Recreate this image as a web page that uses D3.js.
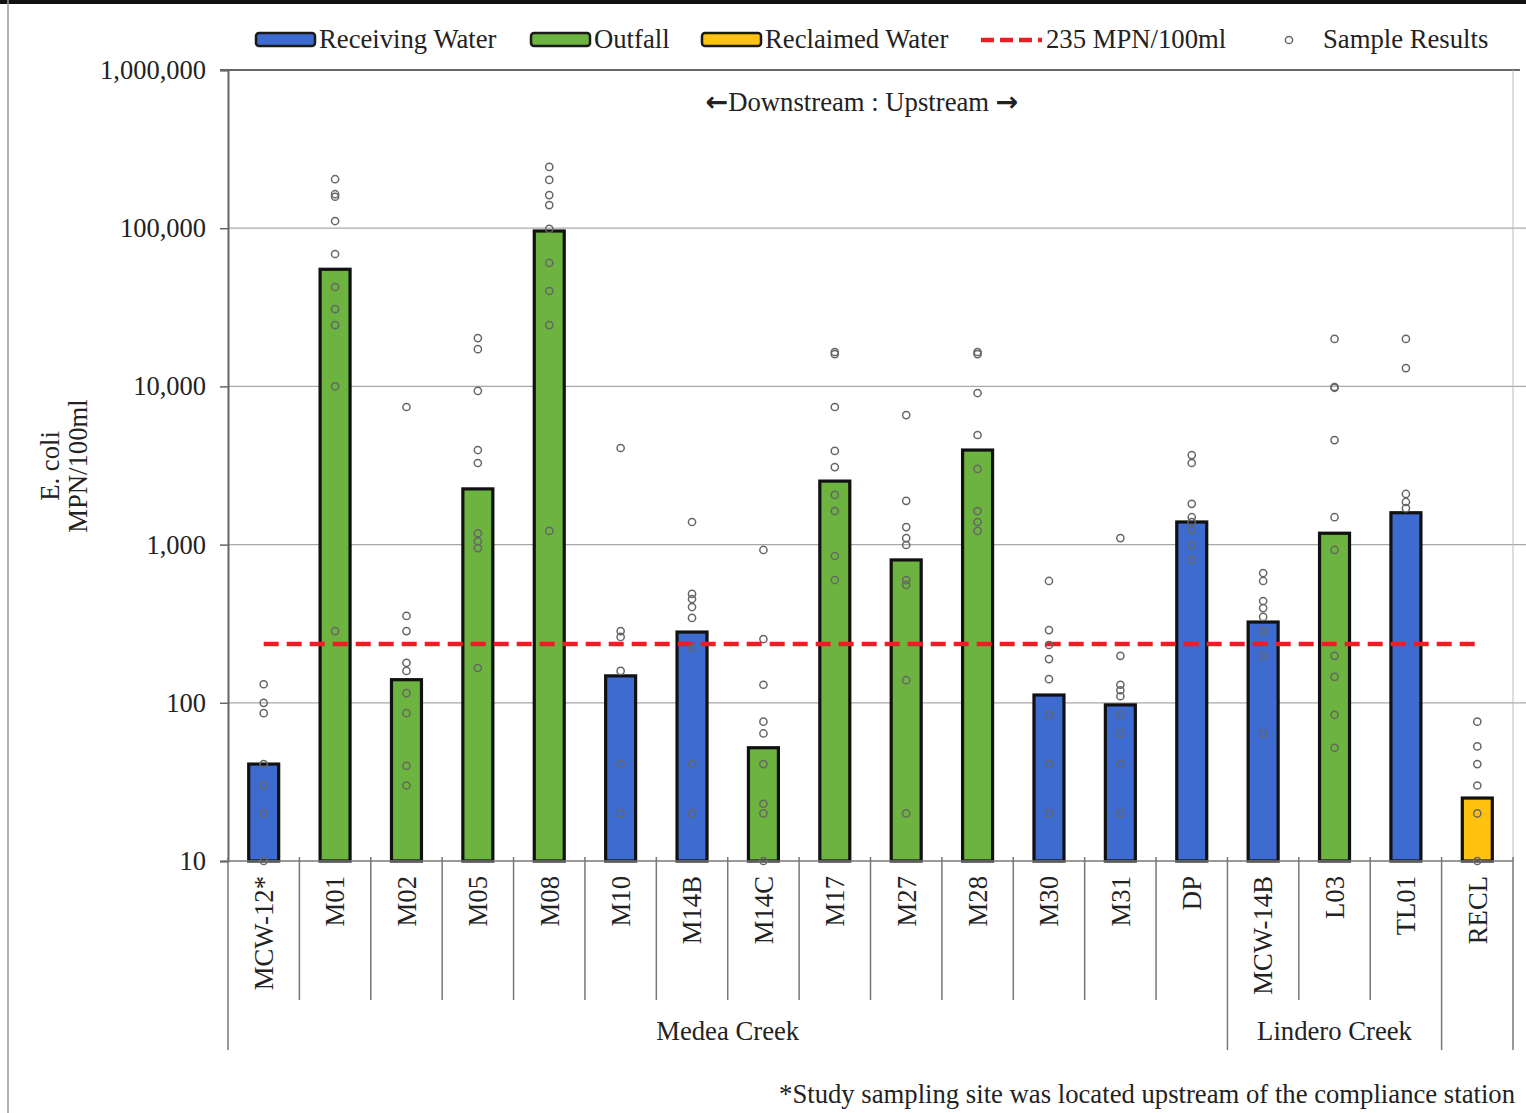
<!DOCTYPE html>
<html>
<head>
<meta charset="utf-8">
<script src="https://cdn.jsdelivr.net/npm/d3@7"></script>
<style>
  html, body { margin: 0; padding: 0; background: #fff; }
  svg { display: block; }
  text { font-family: "Liberation Serif", "Times New Roman", serif; fill: #222; }
</style>
</head>
<body>
<svg id="chart" width="1526" height="1113"></svg>
<script>
// Sampling sites, ordered downstream to upstream
const categories = ["MCW-12*", "M01", "M02", "M05", "M08", "M10", "M14B", "M14C", "M17",
  "M27", "M28", "M30", "M31", "DP", "MCW-14B", "L03", "TL01", "RECL"];

// Site type of each station
const siteTypes = ["Receiving Water", "Outfall", "Outfall", "Outfall", "Outfall",
  "Receiving Water", "Receiving Water", "Outfall", "Outfall", "Outfall", "Outfall",
  "Receiving Water", "Receiving Water", "Receiving Water", "Receiving Water",
  "Outfall", "Receiving Water", "Reclaimed Water"];

// Bar height per station (E. coli, MPN/100ml)
const barValues = [41, 55000, 140, 2250, 96000, 148, 280, 52, 2520, 800, 3960,
  112, 97, 1390, 324, 1180, 1590, 25];

// Individual sample results per station (MPN/100ml)
const sampleResults = [
  [131, 100, 86, 41, 30, 20, 10],
  [204000, 164000, 158000, 111000, 68700, 42500, 30800, 24400, 10000, 284],
  [7410, 354, 284, 179, 159, 115, 86, 40, 30],
  [20200, 17200, 9360, 3960, 3280, 1180, 1050, 950, 166],
  [244000, 202000, 162000, 140000, 99000, 60300, 40100, 24400, 1220],
  [4080, 284, 261, 159, 41, 20],
  [1390, 488, 453, 403, 344, 222, 41, 20],
  [925, 253, 130, 76, 64, 41, 23, 20, 10],
  [16500, 16000, 7410, 3910, 3090, 2060, 1630, 847, 597],
  [6590, 1890, 1290, 1100, 994, 597, 556, 139, 20],
  [16500, 16000, 9080, 4930, 3010, 1630, 1390, 1220],
  [589, 288, 232, 189, 141, 84, 41, 20],
  [1100, 198, 130, 120, 110, 84, 64, 41, 20],
  [3680, 3280, 1810, 1490, 1390, 1240, 994, 800],
  [661, 589, 440, 397, 349, 284, 198, 64],
  [19950, 9910, 9800, 4580, 1490, 925, 198, 146, 84, 52],
  [19950, 13060, 2090, 1860, 1700],
  [76, 53, 41, 30, 20, 10]
];

// Compliance limit
const thresholdValue = 235;
const thresholdLabel = "235 MPN/100ml";

// Y tick values
const yTicks = [10, 100, 1000, 10000, 100000, 1000000];

// Creek groupings under the station labels (start index, end index exclusive)
const groupNames = ["Medea Creek", "Lindero Creek", ""];
const groupStarts = [0, 14, 17];
const groupEnds = [14, 17, 18];

// Legend entries
const legendTypes = ["Receiving Water", "Outfall", "Reclaimed Water"];

const colors = {
  "Receiving Water": "#3d6bd0",
  "Outfall": "#6db33f",
  "Reclaimed Water": "#ffc20e"
};

const FS = 26.7;
const svg = d3.select("#chart");
const plot = { left: 228, right: 1513, top: 70, bottom: 861 };

// Figure frame
svg.append("rect").attr("x", 0).attr("y", 0).attr("width", 1526).attr("height", 4).attr("fill", "#111");
svg.append("line").attr("x1", 8).attr("x2", 8).attr("y1", 0).attr("y2", 1113)
  .attr("stroke", "#999").attr("stroke-width", 1.5);

const x = d3.scaleBand().domain(categories).range([plot.left, plot.right])
  .paddingInner(0.58).paddingOuter(0.29);
const step = x.step();
const cx = c => x(c) + x.bandwidth() / 2;
const y = d3.scaleLog().domain([10, 1000000]).range([plot.bottom, plot.top]);

// Horizontal gridlines
svg.append("g").selectAll("line").data(yTicks.slice(1, -1)).join("line")
  .attr("x1", plot.left).attr("x2", 1526)
  .attr("y1", d => y(d)).attr("y2", d => y(d))
  .attr("stroke", "#a8a8a8").attr("stroke-width", 1.2);

// Top frame line of the plot
svg.append("line").attr("x1", 220).attr("x2", 1520).attr("y1", y(1000000)).attr("y2", y(1000000))
  .attr("stroke", "#666").attr("stroke-width", 2);
// Right edge
svg.append("line").attr("x1", plot.right).attr("x2", plot.right).attr("y1", plot.top).attr("y2", plot.bottom)
  .attr("stroke", "#bbb").attr("stroke-width", 1);

// Y axis
const yAxis = svg.append("g").attr("transform", `translate(${plot.left},0)`)
  .call(d3.axisLeft(y).tickValues(yTicks).tickFormat(d3.format(",")).tickSize(8).tickPadding(14));
yAxis.select(".domain").attr("stroke", "#666").attr("stroke-width", 2);
yAxis.selectAll(".tick line").attr("stroke", "#666").attr("stroke-width", 1.5);
yAxis.selectAll(".tick text").attr("font-size", 26.5).attr("fill", "#222")
  .attr("font-family", "Liberation Serif, serif");

// Y title
const yTitle = svg.append("text").attr("transform", "translate(50,466) rotate(-90)")
  .attr("text-anchor", "middle").attr("font-size", FS);
yTitle.append("tspan").attr("x", 0).attr("dy", "0.35em").text("E. coli");
yTitle.append("tspan").attr("x", 0).attr("dy", "1.02em").text("MPN/100ml");

// Bars
svg.append("g").selectAll("rect").data(categories).join("rect")
  .attr("x", d => x(d))
  .attr("width", x.bandwidth())
  .attr("y", (d, i) => y(barValues[i]))
  .attr("height", (d, i) => plot.bottom - y(barValues[i]))
  .attr("fill", (d, i) => colors[siteTypes[i]])
  .attr("stroke", "#111").attr("stroke-width", 3.2);

// Threshold line
svg.append("line")
  .attr("x1", cx(categories[0])).attr("x2", cx(categories[categories.length - 1]))
  .attr("y1", y(thresholdValue)).attr("y2", y(thresholdValue))
  .attr("stroke", "#ee1c25").attr("stroke-width", 4.5).attr("stroke-dasharray", "15,8");

// Sample results
const pts = [];
categories.forEach((c, i) => sampleResults[i].forEach(v => pts.push({ c, v })));
svg.append("g").selectAll("circle").data(pts).join("circle")
  .attr("cx", d => cx(d.c)).attr("cy", d => y(d.v)).attr("r", 3.6)
  .attr("fill", "none").attr("stroke", "#666").attr("stroke-width", 1.5);

// X axis baseline
svg.append("line").attr("x1", plot.left).attr("x2", plot.right)
  .attr("y1", plot.bottom).attr("y2", plot.bottom).attr("stroke", "#777").attr("stroke-width", 1.5);

// Station dividers below the axis
const boundaries = d3.range(categories.length + 1);
const longSet = new Set([...groupStarts, ...groupEnds]);
svg.append("g").selectAll("line").data(boundaries).join("line")
  .attr("x1", k => plot.left + k * step).attr("x2", k => plot.left + k * step)
  .attr("y1", plot.bottom - 4)
  .attr("y2", k => longSet.has(k) ? 1050 : 1000)
  .attr("stroke", "#777").attr("stroke-width", 1.5);

// Station labels
svg.append("g").selectAll("text").data(categories).join("text")
  .attr("transform", d => `translate(${cx(d)},876) rotate(-90)`)
  .attr("text-anchor", "end").attr("dy", "0.35em").attr("font-size", FS)
  .text(d => d);

// Creek group labels
svg.append("g").selectAll("text").data(groupNames).join("text")
  .attr("x", (d, i) => plot.left + (groupStarts[i] + groupEnds[i]) / 2 * step)
  .attr("y", 1040).attr("text-anchor", "middle").attr("font-size", FS)
  .text(d => d);

// Direction note
const note = svg.append("text").attr("x", 862).attr("y", 111).attr("text-anchor", "middle").attr("font-size", FS);
note.append("tspan").attr("font-family", "DejaVu Sans, sans-serif").attr("font-weight", "bold").attr("font-size", 27).text("←");
note.append("tspan").text("Downstream : Upstream ");
note.append("tspan").attr("font-family", "DejaVu Sans, sans-serif").attr("font-weight", "bold").attr("font-size", 27).text("→");

// Legend
const legend = svg.append("g");
const swatchX = [256, 531, 702];
legendTypes.forEach((t, i) => {
  legend.append("rect").attr("x", swatchX[i]).attr("y", 33).attr("width", 59).attr("height", 13).attr("rx", 3)
    .attr("fill", colors[t]).attr("stroke", "#1a1a1a").attr("stroke-width", 2.5);
  legend.append("text").attr("x", swatchX[i] + 63).attr("y", 48).attr("font-size", FS).text(t);
});
legend.append("line").attr("x1", 981).attr("x2", 1042).attr("y1", 40).attr("y2", 40)
  .attr("stroke", "#ee1c25").attr("stroke-width", 4.5).attr("stroke-dasharray", "13,6");
legend.append("text").attr("x", 1046).attr("y", 48).attr("font-size", FS).text(thresholdLabel);
legend.append("circle").attr("cx", 1289).attr("cy", 40).attr("r", 3.6)
  .attr("fill", "none").attr("stroke", "#666").attr("stroke-width", 1.5);
legend.append("text").attr("x", 1323).attr("y", 48).attr("font-size", FS).text("Sample Results");

// Footnote
svg.append("text").attr("x", 1515).attr("y", 1103).attr("text-anchor", "end").attr("font-size", FS)
  .text("*Study sampling site was located upstream of the compliance station");
</script>
</body>
</html>
